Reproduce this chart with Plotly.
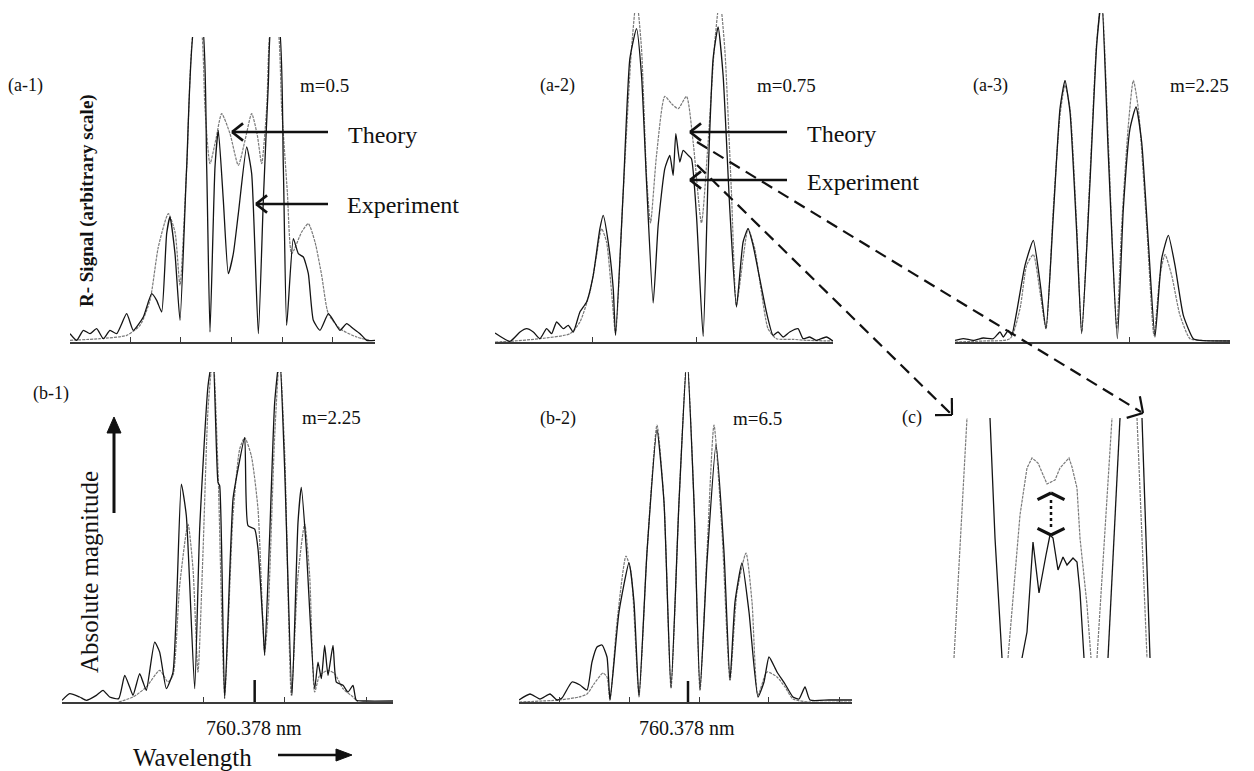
import math
import plotly.graph_objects as go

W, H = 1254, 771
SERIF = "Liberation Serif, Times New Roman, DejaVu Serif, serif"

# ---------------- data (arbitrary units) ----------------
# (a-1) m = 0.5
a1_theory_x = [0, 90, 170, 210, 240, 265, 295, 315, 330, 350, 375, 390, 405, 420, 438, 455, 480, 505, 525, 545,
               562, 575, 590, 605, 620, 635, 652, 665, 695, 715, 735, 755, 775, 810, 860, 900]
a1_theory_y = [5, 10, 20, 50, 125, 285, 385, 330, 170, 520, 960, 960, 700, 535, 610, 685, 625, 530, 605, 685,
               620, 535, 700, 960, 960, 700, 450, 265, 330, 355, 300, 200, 85, 40, 15, 5]
a1_exp_x = [0, 20, 40, 60, 80, 100, 120, 140, 170, 190, 220, 245, 260, 275, 290, 300, 315, 330, 350, 375,
            395, 410, 420, 435, 445, 460, 475, 490, 505, 530, 545, 565, 580, 595, 605, 625, 640, 650, 670, 685,
            700, 715, 730, 750, 775, 790, 810, 830, 850, 870, 890, 915]
a1_exp_y = [25, 5, 35, 25, 40, 10, 35, 25, 85, 35, 75, 145, 125, 90, 325, 375, 265, 65, 525, 960,
            960, 525, 30, 525, 635, 425, 205, 265, 385, 585, 505, 25, 425, 775, 960, 960, 525, 50, 310, 265,
            255, 205, 65, 35, 85, 65, 35, 55, 40, 25, 5, 5]

# (a-2) m = 0.75
a2_theory_x = [0, 45, 135, 225, 255, 285, 305, 320, 335, 350, 362, 385, 410, 425, 440, 455, 467, 485, 510, 530,
               550, 575, 595, 620, 640, 660, 675, 690, 710, 725, 745, 760, 780, 800, 820, 845, 895, 935, 1015]
a2_theory_y = [0, 2, 10, 25, 60, 150, 260, 340, 300, 150, 25, 450, 880, 1030, 880, 500, 357, 560, 737, 715,
               700, 737, 600, 357, 600, 900, 1030, 880, 450, 110, 250, 340, 280, 150, 40, 10, 8, 5, 3]
a2_exp_x = [0, 45, 75, 95, 115, 135, 155, 170, 185, 205, 220, 235, 255, 275, 295, 315, 325, 340, 355, 362,
            385, 405, 425, 440, 455, 475, 490, 510, 525, 535, 543, 555, 565, 580, 590, 605, 625, 640, 655, 670,
            685, 705, 725, 745, 760, 775, 795, 815, 835, 850, 865, 885, 910, 925, 945, 965, 995, 1015]
a2_exp_y = [27, 2, 30, 40, 30, 10, 40, 25, 60, 40, 50, 30, 90, 120, 200, 340, 380, 300, 160, 20,
            450, 850, 940, 800, 480, 117, 350, 520, 560, 500, 625, 540, 575, 560, 550, 380, 17, 500, 850, 945,
            800, 400, 105, 300, 340, 290, 190, 90, 20, 30, 15, 30, 40, 10, 15, 5, 15, 3]

# (a-3) m = 2.25
a3_theory_x = [0, 85, 165, 195, 215, 235, 255, 273, 295, 315, 330, 345, 365, 380, 405, 425, 440, 460, 485, 500,
               520, 535, 550, 575, 597, 615, 630, 650, 675, 705, 735, 825]
a3_theory_y = [0, 3, 10, 100, 230, 262, 150, 40, 400, 680, 770, 700, 350, 30, 500, 900, 1030, 600, 40, 350,
               650, 785, 700, 350, 20, 200, 262, 200, 80, 10, 5, 3]
a3_exp_x = [0, 25, 55, 85, 115, 135, 145, 160, 170, 185, 210, 235, 255, 273, 295, 315, 330, 345, 365, 380,
            405, 425, 440, 460, 487, 505, 525, 543, 560, 580, 600, 620, 640, 660, 685, 715, 735, 825]
a3_exp_y = [5, 10, 5, 12, 10, 30, 15, 35, 20, 90, 230, 305, 180, 40, 380, 700, 785, 690, 330, 25,
            480, 890, 1030, 560, 10, 400, 640, 705, 600, 300, 15, 250, 320, 230, 80, 10, 5, 3]

# (b-1) m = 2.25
b1_theory_x = [170, 213, 253, 293, 318, 333, 353, 378, 393, 408, 423, 438, 453, 468, 488, 513, 533, 548, 568, 588,
               608, 618, 638, 653, 668, 688, 708, 728, 743, 758, 773, 798, 818, 843, 873, 888]
b1_theory_y = [0, 15, 45, 95, 60, 80, 350, 535, 400, 90, 450, 880, 1040, 700, 20, 560, 760, 795, 740, 580,
               150, 260, 800, 1040, 750, 20, 380, 535, 380, 30, 80, 95, 85, 40, 15, 0]
b1_exp_x = [0, 23, 53, 73, 103, 123, 143, 170, 188, 203, 213, 233, 243, 253, 278, 293, 313, 333, 358, 373,
            398, 413, 438, 453, 468, 473, 488, 513, 528, 548, 558, 578, 588, 603, 608, 623, 638, 653, 668, 690,
            708, 718, 733, 758, 768, 778, 788, 798, 813, 823, 843, 858, 873, 883, 913, 993]
b1_exp_y = [5, 25, 15, 5, 20, 35, 15, 10, 80, 45, 20, 85, 60, 35, 180, 150, 40, 90, 655, 560,
            40, 520, 950, 1040, 660, 650, 10, 610, 700, 795, 530, 520, 460, 230, 140, 500, 900, 1040, 700, 20,
            540, 645, 460, 40, 120, 70, 170, 80, 170, 60, 50, 30, 50, 5, 3, 3]

# (b-2) m = 6.5
b2_theory_x = [0, 40, 60, 68, 75, 84, 88, 91, 98, 107, 112, 120, 128, 138, 145, 152, 160, 168, 175, 181,
               188, 195, 203, 211, 218, 227, 233, 239, 248, 258, 266, 274, 290, 333]
b2_theory_y = [0, 2, 5, 8, 18, 29, 25, 2, 80, 146, 130, 7, 150, 277, 200, 14, 200, 345, 200, 12,
               150, 277, 170, 22, 110, 149, 100, 7, 30, 25, 15, 3, 0, 0]
b2_exp_x = [0, 11, 21, 31, 38, 43, 53, 61, 68, 73, 78, 83, 88, 91, 100, 110, 115, 120, 128, 138,
            145, 152, 160, 168, 175, 181, 188, 197, 205, 211, 216, 223, 230, 239, 245, 250, 258, 266, 274, 280,
            286, 291, 310, 333]
b2_exp_y = [2, 8, 3, 8, 2, 4, 20, 17, 12, 40, 55, 57, 45, 2, 90, 139, 100, 5, 150, 272,
            200, 14, 200, 345, 200, 12, 140, 257, 150, 22, 100, 139, 90, 5, 20, 45, 30, 18, 5, 3,
            15, 2, 2, 2]

# (c) enlarged detail of (a-2)
c_theory_x = [14, 27, None, 68, 80, 87, 92, 98, 107, 115, 120, 129, 132, 137, 140, 147, 151, None, 157, 172, None, 197, 207]
c_theory_y = [0, 240, None, 0, 143, 190, 200, 195, 174, 178, 190, 200, 191, 170, 120, 53, 0, None, 0, 240, None, 240, 0]
c_exp_x = [62, 55, 50, None, 82, 87, 93, 99, 106, 110, 113, 118, 123, 127, 133, 137, 140, 144, None, 168, 180, None, 202, 210]
c_exp_y = [0, 120, 240, None, 0, 26, 116, 65, 103, 123, 120, 88, 101, 93, 100, 96, 66, 0, None, 0, 240, None, 240, 0]

panel_labels = ["(a-1)", "(a-2)", "(a-3)", "(b-1)", "(b-2)", "(c)"]
m_labels = ["m=0.5", "m=0.75", "m=2.25", "m=2.25", "m=6.5"]
center_wavelength = "760.378 nm"

# ---------------- layout helpers ----------------
def dom_x(a, b):
    return [a / W, b / W]

def dom_y(top, bottom):
    return [1 - bottom / H, 1 - top / H]

def px(x):
    return x / W

def py(y):
    return 1 - y / H

panels = [
    dict(x=(70, 375), y=(37, 342), xr=[0, 915], yr=[0, 915], ticks=[180, 331, 485, 637, 787],
         data=(a1_theory_x, a1_theory_y, a1_exp_x, a1_exp_y)),
    dict(x=(495, 833), y=(13, 342), xr=[0, 1015], yr=[0, 987], ticks=[292, 605],
         data=(a2_theory_x, a2_theory_y, a2_exp_x, a2_exp_y)),
    dict(x=(955, 1230), y=(13, 342), xr=[0, 825], yr=[0, 987], ticks=[523],
         data=(a3_theory_x, a3_theory_y, a3_exp_x, a3_exp_y)),
    dict(x=(62, 393), y=(372, 702), xr=[0, 993], yr=[0, 992], ticks=[425, 668, 913],
         data=(b1_theory_x, b1_theory_y, b1_exp_x, b1_exp_y)),
    dict(x=(519, 852), y=(372, 702), xr=[0, 333], yr=[0, 330], ticks=[40, 110, 180, 249, 320],
         data=(b2_theory_x, b2_theory_y, b2_exp_x, b2_exp_y)),
    dict(x=(940, 1160), y=(418, 658), xr=[0, 220], yr=[0, 240], ticks=None,
         data=(c_theory_x, c_theory_y, c_exp_x, c_exp_y)),
]

THEORY = dict(color="#7a7a7a", width=1.2, dash="3px,1px")
EXPER = dict(color="#141414", width=1.3)

fig = go.Figure()
layout = dict(
    width=W, height=H, margin=dict(l=0, r=0, t=0, b=0),
    paper_bgcolor="white", plot_bgcolor="rgba(0,0,0,0)", showlegend=False,
)

for i, p in enumerate(panels, start=1):
    sx = "" if i == 1 else str(i)
    tx, ty, ex, ey = p["data"]
    spline = i != 6
    tline = dict(**THEORY, shape="spline", smoothing=0.6) if spline else THEORY
    eline = dict(**EXPER, shape="spline", smoothing=0.5) if spline else EXPER
    fig.add_trace(go.Scatter(x=tx, y=ty, mode="lines", line=tline,
                             xaxis="x" + sx, yaxis="y" + sx, hoverinfo="skip", name="Theory"))
    fig.add_trace(go.Scatter(x=ex, y=ey, mode="lines", line=eline,
                             xaxis="x" + sx, yaxis="y" + sx, hoverinfo="skip", name="Experiment"))
    xa = dict(domain=dom_x(*p["x"]), range=p["xr"], anchor="y" + sx, showgrid=False, zeroline=False,
              showticklabels=False, fixedrange=True)
    if p["ticks"] is not None:
        xa.update(showline=True, linecolor="#3a3a3a", linewidth=1.5, ticks="inside", ticklen=5,
                  tickwidth=1, tickcolor="#3a3a3a", tickvals=p["ticks"])
    else:
        xa.update(visible=False)
    ya = dict(domain=dom_y(*p["y"]), range=p["yr"], anchor="x" + sx, visible=False, fixedrange=True)
    layout["xaxis" + sx] = xa
    layout["yaxis" + sx] = ya

fig.update_layout(**layout)

# ---------------- text ----------------
def txt(s, x, y, size, anchor="left", angle=0, bold=False):
    fig.add_annotation(text=("<b>%s</b>" % s) if bold else s, x=px(x), y=py(y), xref="paper", yref="paper",
                       xanchor=anchor, yanchor="middle", showarrow=False, textangle=angle,
                       font=dict(family=SERIF, size=size, color="#111"))

txt(panel_labels[0], 6, 85, 18)
txt(m_labels[0], 298, 85, 19)
txt("Theory", 346, 135, 24)
txt("Experiment", 345, 205, 24)
txt(panel_labels[1], 538, 85, 18)
txt(m_labels[1], 755, 85, 19)
txt("Theory", 805, 134, 24)
txt("Experiment", 805, 182, 24)
txt(panel_labels[2], 971, 85, 18)
txt(m_labels[2], 1168, 85, 19)
txt(panel_labels[3], 31, 393, 18)
txt(m_labels[3], 300, 418, 19)
txt(panel_labels[4], 538, 419, 18)
txt(m_labels[4], 731, 419, 19)
txt(panel_labels[5], 900, 418, 18)
txt(center_wavelength, 254, 728, 20, anchor="center")
txt(center_wavelength, 687, 728, 20, anchor="center")
txt("Wavelength", 131, 757, 25)
txt("Absolute magnitude", 89, 572, 25, anchor="center", angle=-90)
txt("R- Signal (arbitrary scale)", 87, 201, 19, anchor="center", angle=-90, bold=True)

# ---------------- decorations: arrows ----------------
shapes = []

def line(x0, y0, x1, y1, width=2.0, dash="solid", color="#111"):
    shapes.append(dict(type="line", xref="paper", yref="paper", x0=px(x0), y0=py(y0), x1=px(x1), y1=py(y1),
                       line=dict(color=color, width=width, dash=dash)))

def chevron(tipx, tipy, fromx, fromy, length=14, spread=40, width=2.2):
    ang = math.atan2(fromy - tipy, fromx - tipx)
    for s in (-1, 1):
        a = ang + s * math.radians(spread)
        line(tipx, tipy, tipx + length * math.cos(a), tipy + length * math.sin(a), width=width)

def triangle(tipx, tipy, fromx, fromy, length=15, half=7):
    ang = math.atan2(fromy - tipy, fromx - tipx)
    bx, by = tipx + length * math.cos(ang), tipy + length * math.sin(ang)
    nx, ny = -math.sin(ang), math.cos(ang)
    pts = [(tipx, tipy), (bx + half * nx, by + half * ny), (bx - half * nx, by - half * ny)]
    path = "M " + " L ".join("%f,%f" % (px(a), py(b)) for a, b in pts) + " Z"
    shapes.append(dict(type="path", xref="paper", yref="paper", path=path,
                       fillcolor="#111", line=dict(color="#111", width=1)))

# Theory / Experiment pointers
for (x0, y0, x1, y1) in [(328, 132, 232, 132), (328, 204, 256, 204), (787, 132, 690, 132), (787, 180, 690, 180)]:
    line(x0, y0, x1, y1, width=2.4)
    chevron(x1, y1, x0, y0, length=14, spread=38, width=2.6)

# dashed pointers to (c)
line(697, 142, 1141, 412, width=2.2, dash="12px,7px")
chevron(1143, 413, 697, 142, length=17, spread=48, width=2.2)
line(697, 165, 950, 413, width=2.2, dash="12px,7px")
chevron(952, 415, 697, 165, length=17, spread=45, width=2.2)

# axis arrows
line(114, 513, 114, 430, width=3)
triangle(114, 417, 114, 513, length=16, half=7)
line(278, 755, 338, 755, width=2.5)
triangle(352, 755, 278, 755, length=16, half=6)

# dotted double arrow in (c)
shapes.append(dict(type="line", xref="x6", yref="y6", x0=111, y0=158, x1=111, y1=128,
                   line=dict(color="#111", width=2.5, dash="dot")))
chevron(1051, 493, 1051, 540, length=15, spread=64, width=3.2)
chevron(1051, 535, 1051, 488, length=15, spread=64, width=3.2)

# large centre-wavelength ticks
shapes.append(dict(type="line", xref="x4", yref="y4", x0=578, x1=578, y0=-9, y1=66,
                   line=dict(color="#111", width=2.5)))
shapes.append(dict(type="line", xref="x5", yref="y5", x0=169, x1=169, y0=-4, y1=21,
                   line=dict(color="#111", width=2.5)))

fig.update_layout(shapes=shapes)
fig.write_html("out.html")
